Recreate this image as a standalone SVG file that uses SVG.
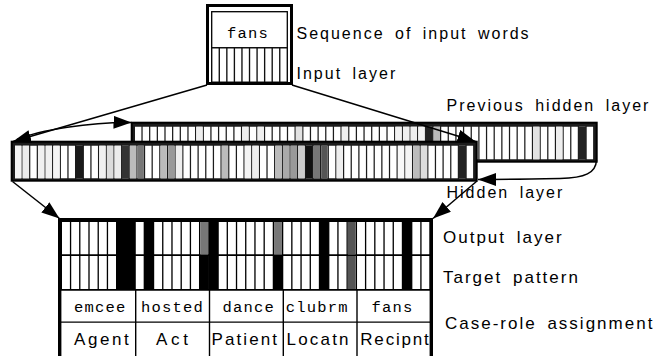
<svg xmlns="http://www.w3.org/2000/svg" width="657" height="356" viewBox="0 0 657 356">
<defs>
<marker id="ah" markerUnits="userSpaceOnUse" markerWidth="20" markerHeight="14" refX="18" refY="6.5" orient="auto" viewBox="0 0 20 14"><path d="M0,0 L18,6.5 L0,13 z" fill="#000"/></marker>
</defs>
<style>
.lbl{font-family:"Liberation Sans",Arial,sans-serif;font-size:16px;letter-spacing:2px;word-spacing:4px;fill:#000}
.big{font-size:17px}
.mono{font-family:"Liberation Mono","Courier New",monospace;font-size:15.5px;letter-spacing:1.2px;fill:#000}
.role{font-family:"Liberation Sans",Arial,sans-serif;font-size:17px;fill:#000}
.frame{fill:#1c1c1c;stroke:#000;stroke-width:2}
.wcell{fill:none;stroke:#fff}
.con{fill:none;stroke:#000;stroke-width:1.5}
</style>
<rect width="657" height="356" fill="#fff"/>

<g id="input-box">
<rect x="207.5" y="5.5" width="84" height="78" fill="#fff" stroke="#000" stroke-width="3"/>
<rect x="211.7" y="11.7" width="75.6" height="70.3" fill="none" stroke="#000" stroke-width="1.3"/>
<rect x="211.7" y="47" width="75.6" height="35" fill="#111"/>
<line class="wcell" x1="212.4" y1="65" x2="286.6" y2="65" stroke-width="33" stroke-dasharray="6.2 1.36"/>
<text class="mono" x="227" y="37.5">fans</text>
</g>

<g id="previous-hidden-layer">
<rect class="frame" x="131.7" y="122.7" width="465" height="39"/>
<line class="wcell" x1="135" y1="143" x2="593.1" y2="143" stroke-width="32.6" stroke-dasharray="6.4 1.256"/>
<g>
<rect x="196.25" y="126.7" width="6.4" height="32.6" fill="#eee"/>
<rect x="242.18" y="126.7" width="6.4" height="32.6" fill="#eee"/>
<rect x="257.5" y="126.7" width="6.4" height="32.6" fill="#f0f0f0"/>
<rect x="295.78" y="126.7" width="6.4" height="32.6" fill="#e2e2e2"/>
<rect x="341.71" y="126.7" width="6.4" height="32.6" fill="#f0f0f0"/>
<rect x="395.3" y="126.7" width="6.4" height="32.6" fill="#f2f2f2"/>
<rect x="402.96" y="126.7" width="6.4" height="32.6" fill="#eee"/>
<rect x="410.62" y="126.7" width="6.4" height="32.6" fill="#eee"/>
<rect x="418.27" y="126.7" width="6.4" height="32.6" fill="#f2f2f2"/>
<rect x="425.3" y="126.7" width="7.6" height="32.6" fill="#222"/>
<rect x="433.58" y="126.7" width="6.4" height="32.6" fill="#bbb"/>
<rect x="533.11" y="126.7" width="6.4" height="32.6" fill="#e2e2e2"/>
<rect x="556.08" y="126.7" width="6.4" height="32.6" fill="#eee"/>
<rect x="578.4" y="126.7" width="7.6" height="32.6" fill="#222"/>
</g>
</g>

<g id="hidden-layer">
<rect class="frame" x="11.7" y="141.7" width="465" height="39"/>
<line class="wcell" x1="15" y1="162" x2="473.1" y2="162" stroke-width="32.6" stroke-dasharray="6.4 1.256"/>
<g>
<rect x="15" y="145.7" width="6.4" height="32.6" fill="#f4f4f4"/>
<rect x="22.66" y="145.7" width="6.4" height="32.6" fill="#ececec"/>
<rect x="37.97" y="145.7" width="6.4" height="32.6" fill="#f0f0f0"/>
<rect x="45.62" y="145.7" width="6.4" height="32.6" fill="#f0f0f0"/>
<rect x="53.28" y="145.7" width="6.4" height="32.6" fill="#f4f4f4"/>
<rect x="75.6" y="145.7" width="7.6" height="32.6" fill="#1a1a1a"/>
<rect x="99.22" y="145.7" width="6.4" height="32.6" fill="#f0f0f0"/>
<rect x="106.87" y="145.7" width="6.4" height="32.6" fill="#dcdcdc"/>
<rect x="114.53" y="145.7" width="6.4" height="32.6" fill="#ececec"/>
<rect x="121.6" y="145.7" width="7.6" height="32.6" fill="#333"/>
<rect x="129.84" y="145.7" width="6.4" height="32.6" fill="#bbb"/>
<rect x="137.5" y="145.7" width="6.4" height="32.6" fill="#777"/>
<rect x="160.46" y="145.7" width="6.4" height="32.6" fill="#bbb"/>
<rect x="168.12" y="145.7" width="6.4" height="32.6" fill="#999"/>
<rect x="175.78" y="145.7" width="6.4" height="32.6" fill="#eee"/>
<rect x="221.71" y="145.7" width="6.4" height="32.6" fill="#bbb"/>
<rect x="244.68" y="145.7" width="6.4" height="32.6" fill="#f4f4f4"/>
<rect x="252.34" y="145.7" width="6.4" height="32.6" fill="#eee"/>
<rect x="275.3" y="145.7" width="6.4" height="32.6" fill="#bbb"/>
<rect x="282.96" y="145.7" width="6.4" height="32.6" fill="#aaa"/>
<rect x="290.62" y="145.7" width="6.4" height="32.6" fill="#999"/>
<rect x="298.27" y="145.7" width="6.4" height="32.6" fill="#ccc"/>
<rect x="305.3" y="145.7" width="7.6" height="32.6" fill="#111"/>
<rect x="313.58" y="145.7" width="6.4" height="32.6" fill="#777"/>
<rect x="321.24" y="145.7" width="6.4" height="32.6" fill="#555"/>
<rect x="336.55" y="145.7" width="6.4" height="32.6" fill="#eee"/>
<rect x="397.8" y="145.7" width="6.4" height="32.6" fill="#f8f8f8"/>
<rect x="405.46" y="145.7" width="6.4" height="32.6" fill="#f4f4f4"/>
<rect x="413.11" y="145.7" width="6.4" height="32.6" fill="#bbb"/>
<rect x="420.77" y="145.7" width="6.4" height="32.6" fill="#ddd"/>
<rect x="458.4" y="145.7" width="7.6" height="32.6" fill="#222"/>
</g>
</g>

<g id="output-box">
<rect x="61" y="220.5" width="371" height="69.5" fill="#000"/>
<line class="wcell" x1="62" y1="238.15" x2="429.5" y2="238.15" stroke-width="32.3" stroke-dasharray="7.9 1.32"/>
<line class="wcell" x1="62" y1="272.5" x2="429.5" y2="272.5" stroke-width="33" stroke-dasharray="7.9 1.32"/>
<g>
<rect x="116.7" y="221" width="18.4" height="69" fill="#000"/>
<rect x="144.3" y="221" width="9.2" height="69" fill="#000"/>
<rect x="200.3" y="222" width="7.9" height="32.3" fill="#777"/>
<rect x="199.6" y="256" width="9.2" height="33.5" fill="#000"/>
<rect x="208.9" y="221" width="9.2" height="69" fill="#000"/>
<rect x="274.06" y="222" width="7.9" height="32.3" fill="#777"/>
<rect x="273.4" y="256" width="9.2" height="33.5" fill="#000"/>
<rect x="319.5" y="221" width="9.2" height="69" fill="#000"/>
<rect x="347.82" y="222" width="7.9" height="32.3" fill="#555"/>
<rect x="347.82" y="256" width="7.9" height="33" fill="#555"/>
<rect x="402.5" y="221" width="9.2" height="69" fill="#000"/>
</g>
<rect x="61" y="290" width="371" height="70" fill="#fff"/>
<line x1="61" y1="290" x2="432" y2="290" stroke="#000" stroke-width="1.3"/>
<line x1="61" y1="322.2" x2="432" y2="322.2" stroke="#000" stroke-width="1.2"/>
<g stroke="#000" stroke-width="1.4">
<line x1="135.7" y1="290" x2="135.7" y2="356"/>
<line x1="209.5" y1="290" x2="209.5" y2="356"/>
<line x1="283.3" y1="290" x2="283.3" y2="356"/>
<line x1="357" y1="290" x2="357" y2="356"/>
</g>
<rect x="59.7" y="219.7" width="371.6" height="140" fill="none" stroke="#000" stroke-width="3.4"/>
<text class="mono" x="74" y="311.5">emcee</text>
<text class="mono" x="141" y="311.5">hosted</text>
<text class="mono" x="222.5" y="311.5">dance</text>
<text class="mono" x="285.8" y="311.5">clubrm</text>
<text class="mono" x="371.5" y="311.5">fans</text>
<text class="role" x="74" y="345" style="letter-spacing:2.6px">Agent</text>
<text class="role" x="156" y="345" style="letter-spacing:3.7px">Act</text>
<text class="role" x="211.5" y="345" style="letter-spacing:2.1px">Patient</text>
<text class="role" x="286.5" y="345" style="letter-spacing:2.2px">Locatn</text>
<text class="role" x="360.3" y="345" style="letter-spacing:1.8px">Recipnt</text>
</g>

<g id="labels">
<text class="lbl" x="296.5" y="38.5">Sequence of input words</text>
<text class="lbl" x="296.5" y="78.5">Input layer</text>
<text class="lbl" x="446.5" y="110.5">Previous hidden layer</text>
<text class="lbl" x="446.5" y="198">Hidden layer</text>
<text class="lbl big" x="443" y="243">Output layer</text>
<text class="lbl big" x="443" y="283">Target pattern</text>
<text class="lbl big" x="445" y="329">Case-role assignment</text>
</g>

<g id="connectors">
<path class="con" d="M207,85 L13,141.5" marker-end="url(#ah)"/>
<path class="con" d="M17,139.5 C40,130 90,122 131.5,122.5" marker-end="url(#ah)"/>
<path class="con" d="M292,85 L475.5,141.5" marker-end="url(#ah)"/>
<path class="con" d="M596.5,160 C596,173 585,178 560,178.5 C530,179 500,179.5 478,179.5" marker-end="url(#ah)"/>
<path class="con" d="M12.5,181.5 L59.5,218.5" marker-end="url(#ah)"/>
<path class="con" d="M477,181 L433,218.5" marker-end="url(#ah)"/>
</g>
</svg>
